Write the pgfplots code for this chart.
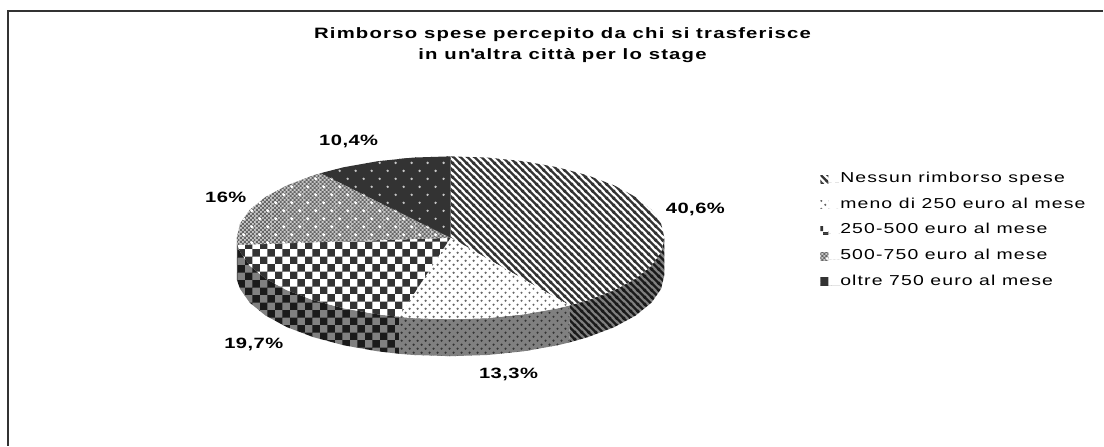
\documentclass[border=0pt]{standalone}
\usepackage{fontspec}
\setmainfont{Liberation Sans}[FakeStretch=1.35,LetterSpace=8]
\newfontfamily\lab{Liberation Sans}[FakeStretch=1.35,LetterSpace=3]
\usepackage{pgfplots}
\pgfplotsset{compat=1.18}
\usetikzlibrary{patterns}
\definecolor{dk}{HTML}{333333}
\definecolor{dkk}{HTML}{1A1A1A}
\definecolor{md}{HTML}{808080}
\definecolor{fa}{HTML}{666666}
\definecolor{fb}{HTML}{C8C8C8}
\newcommand\bgrect[3]{\pgfsetfillcolor{#1}\pgfpathrectangle{\pgfqpoint{-0.5bp}{-0.5bp}}{\pgfqpoint{#2}{#3}}\pgfusepath{fill}}
\newcommand\dotat[3]{\pgfpathcircle{\pgfqpoint{#1}{#2}}{#3}}
\newcommand\stripepat[3]{%
\pgfdeclarepatterninherentlycolored{#1}{\pgfqpoint{0bp}{0bp}}{\pgfqpoint{7.2bp}{7.2bp}}{\pgfqpoint{7.2bp}{7.2bp}}{%
 \bgrect{#2}{8.2bp}{8.2bp}%
 \pgfsetstrokecolor{#3}\pgfsetlinewidth{2.5bp}%
 \pgfpathmoveto{\pgfqpoint{-1bp}{8.2bp}}\pgfpathlineto{\pgfqpoint{8.2bp}{-1bp}}%
 \pgfpathmoveto{\pgfqpoint{-1bp}{1bp}}\pgfpathlineto{\pgfqpoint{1bp}{-1bp}}%
 \pgfpathmoveto{\pgfqpoint{6.2bp}{8.2bp}}\pgfpathlineto{\pgfqpoint{8.2bp}{6.2bp}}%
 \pgfusepath{stroke}}}
\stripepat{sttop}{white}{dk}
\stripepat{stside}{md}{dkk}
\newcommand\smalldots[3]{%
\pgfdeclarepatterninherentlycolored{#1}{\pgfqpoint{-0.4bp}{-0.4bp}}{\pgfqpoint{8.4bp}{8.4bp}}{\pgfqpoint{8bp}{8bp}}{%
 \bgrect{#2}{9bp}{9bp}%
 \pgfsetfillcolor{#3}\dotat{2bp}{2bp}{1.2bp}\dotat{6bp}{6bp}{1.2bp}\pgfusepath{fill}}}
\smalldots{dottop}{white}{fa}
\smalldots{dotside}{md}{dk}
\newcommand\checkpat[3]{%
\pgfdeclarepatterninherentlycolored{#1}{\pgfqpoint{0bp}{0bp}}{\pgfqpoint{15.4bp}{15.4bp}}{\pgfqpoint{15.4bp}{15.4bp}}{%
 \bgrect{#2}{16.4bp}{16.4bp}%
 \pgfsetfillcolor{#3}%
 \pgfpathrectangle{\pgfqpoint{0bp}{0bp}}{\pgfqpoint{7.7bp}{7.7bp}}%
 \pgfpathrectangle{\pgfqpoint{7.7bp}{7.7bp}}{\pgfqpoint{7.7bp}{7.7bp}}\pgfusepath{fill}}}
\checkpat{chtop}{white}{dk}
\checkpat{chside}{md}{dkk}
\pgfdeclarepatterninherentlycolored{finepat}{\pgfqpoint{-0.4bp}{-0.4bp}}{\pgfqpoint{16.4bp}{16.4bp}}{\pgfqpoint{16bp}{16bp}}{%
 \bgrect{fb}{17bp}{17bp}%
 \pgfsetfillcolor{fa}%
 \foreach \i in {0,2,...,14}{\foreach \j in {0,2,...,14}{%
   \pgfmathparse{int(mod(\i+\j,4))}%
   \ifnum\pgfmathresult=0 \pgfpathrectangle{\pgfqpoint{\i bp}{\j bp}}{\pgfqpoint{2bp}{2bp}}\fi}}%
 \pgfusepath{fill}%
 \pgfsetfillcolor{white}\dotat{4bp}{4bp}{1.6bp}\dotat{12bp}{12bp}{1.6bp}\pgfusepath{fill}}
\pgfdeclarepatterninherentlycolored{darkpat}{\pgfqpoint{-0.4bp}{-0.4bp}}{\pgfqpoint{16.4bp}{16.4bp}}{\pgfqpoint{16bp}{16bp}}{%
 \bgrect{dk}{17bp}{17bp}%
 \pgfsetfillcolor{fb}\dotat{4bp}{4bp}{1.3bp}\dotat{12bp}{12bp}{1.3bp}\pgfusepath{fill}}
\begin{document}
\begin{tikzpicture}
\begin{axis}[
  hide axis, scale only axis, width=1104bp, height=446bp,
  xmin=0, xmax=1104, ymin=0, ymax=446, y dir=reverse, clip=false,
  legend image code/.code={\path[#1] (0bp,-0.5bp) rectangle (8bp,7.5bp); \path (0bp,0bp) -- (20bp,0bp);},
  legend cell align=left,
  legend style={at={(axis cs:821,166)}, anchor=north west, draw=none, fill=none,
    inner sep=0pt, outer sep=0pt, row sep=0pt,
    nodes={inner sep=0pt, outer sep=0pt, text height=17bp, text depth=8.6bp, anchor=base west},
    font=\fontsize{14.45}{16}\selectfont},
]
\path (axis cs:0,0) rectangle (axis cs:1104,446);
% frame
\addplot[forget plot, color=dk, line width=2bp] coordinates {(8,446) (8,11) (1104,11)};
% side walls (shares 40,6 13,3 19,7 16 10,4 %; ellipse centre 451,238; depth 37)
\addplot[forget plot, draw=none, pattern=stside] coordinates {(665,238) (661.7,252.2) (652.1,265.9) (636.3,278.8) (614.9,290.4) (588.6,300.4) (570,305.7) (570,342.7) (588.6,337.4) (614.9,327.4) (636.3,315.8) (652.1,302.9) (661.7,289.2) (665,275)};
\addplot[forget plot, draw=none, pattern=dotside] coordinates {(570,305.7) (558,308.6) (524.2,314.6) (488.2,318.3) (451,319.5) (413.8,318.3) (399.2,317.1) (399.2,354.1) (413.8,355.3) (451,356.5) (488.2,355.3) (524.2,351.6) (558,345.6) (570,342.7)};
\addplot[forget plot, draw=none, pattern=chside] coordinates {(399.2,317.1) (377.8,314.6) (344,308.6) (313.4,300.4) (287.1,290.4) (265.7,278.8) (249.9,265.9) (240.3,252.2) (237.8,245.1) (237,238) (237,280) (240.3,289.2) (249.9,302.9) (265.7,315.8) (287.1,327.4) (313.4,337.4) (344,345.6) (377.8,351.6) (399.2,354.1)};
% top slices
\addplot[draw=none, pattern=sttop] coordinates {(451,238) (451,156.5) (488.2,157.7) (524.2,161.4) (558,167.4) (588.6,175.6) (614.9,185.6) (636.3,197.2) (652.1,210.1) (661.7,223.8) (665,238) (661.7,252.2) (652.1,265.9) (636.3,278.8) (614.9,290.4) (588.6,300.4) (570,305.7)};
\addlegendentry{Nessun rimborso spese}
\addplot[draw=none, pattern=dottop] coordinates {(451,238) (570,305.7) (558,308.6) (524.2,314.6) (488.2,318.3) (451,319.5) (413.8,318.3) (399.2,317.1)};
\addlegendentry{meno di 250 euro al mese}
\addplot[draw=none, pattern=chtop] coordinates {(451,238) (399.2,317.1) (377.8,314.6) (344,308.6) (313.4,300.4) (287.1,290.4) (265.7,278.8) (249.9,265.9) (240.3,252.2) (237.8,245.1)};
\addlegendentry{250-500 euro al mese}
\addplot[draw=none, pattern=finepat] coordinates {(451,238) (237.8,245.1) (237,238) (240.3,223.8) (249.9,210.1) (265.7,197.2) (287.1,185.6) (313.4,175.6) (321,173.3)};
\addlegendentry{500-750 euro al mese}
\addplot[draw=none, pattern=darkpat] coordinates {(451,238) (321,173.3) (344,167.4) (377.8,161.4) (413.8,157.7) (451,156.5)};
\addlegendentry{oltre 750 euro al mese}
% texts
\node[font=\fontsize{15.1}{21}\selectfont\bfseries, align=center] at (axis cs:563,45.5) {Rimborso spese percepito da chi si trasferisce\\in un\textquotesingle altra città per lo stage};
\node[font=\lab\fontsize{15}{18}\selectfont\bfseries] at (axis cs:696,210) {40,6\%};
\node[font=\lab\fontsize{15}{18}\selectfont\bfseries] at (axis cs:509,375) {13,3\%};
\node[font=\lab\fontsize{15}{18}\selectfont\bfseries] at (axis cs:254,345) {19,7\%};
\node[font=\lab\fontsize{15}{18}\selectfont\bfseries] at (axis cs:226,198) {16\%};
\node[font=\lab\fontsize{15}{18}\selectfont\bfseries] at (axis cs:349,142) {10,4\%};
\end{axis}
\end{tikzpicture}
\end{document}
